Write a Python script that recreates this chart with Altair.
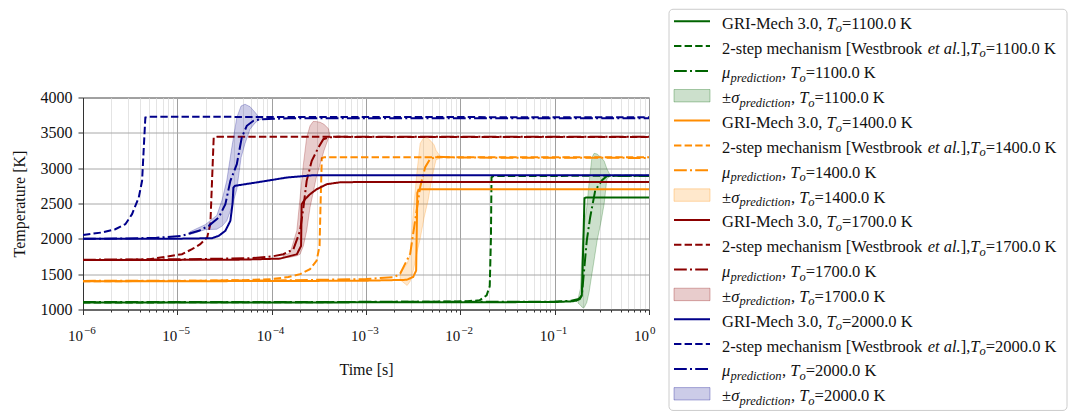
import altair as alt
import pandas as pd

FONT = "Liberation Serif"

cases = ["1100.0", "1400.0", "1700.0", "2000.0"]
case_colors = ["#006400", "#ff8c00", "#8b0000", "#00008b"]
kinds = ["gri", "two", "mu"]
kind_dashes = [[1, 0], [7.4, 3.2], [12.8, 3.2, 2, 3.2]]

# x-axis decade labels (10^exp)
major_vals = [1e-6, 1e-5, 1e-4, 1e-3, 1e-2, 1e-1, 1.0]
major_exps = ["−6", "−5", "−4", "−3", "−2", "−1", "0"]
y_ticks = [1000, 1500, 2000, 2500, 3000, 3500, 4000]

# ---- T0 = 1100 K ----
gri_1100_t = [1e-6, 1e-4, 1e-2, 0.1, 0.15, 0.17, 0.185, 0.194, 0.2, 0.207, 0.215, 1.0]
gri_1100_T = [1100, 1100, 1102, 1106, 1115, 1125, 1150, 1200, 1800, 2575, 2585, 2585]
two_1100_t = [1e-6, 1e-4, 1e-3, 5e-3, 0.012, 0.016, 0.019, 0.0205, 0.0211, 0.0214, 0.0225, 1.0]
two_1100_T = [1100, 1102, 1106, 1110, 1118, 1130, 1200, 1330, 2000, 2870, 2890, 2892]
mu_1100_t = [1e-6, 1e-3, 0.05, 0.1, 0.15, 0.18, 0.194, 0.219, 0.238, 0.269, 0.316, 0.358, 0.5, 1.0]
mu_1100_T = [1105, 1108, 1108, 1112, 1125, 1150, 1198, 1976, 2306, 2684, 2825, 2890, 2890, 2890]
band_1100_t = [0.177, 0.188, 0.196, 0.206, 0.219, 0.232, 0.248, 0.262, 0.282, 0.311, 0.335, 0.358, 0.388]
band_1100_lo = [1090, 1060, 1030, 1030, 1100, 1250, 1500, 1700, 1976, 2250, 2500, 2850, 2885]
band_1100_hi = [1150, 1300, 1900, 2200, 2450, 2800, 3150, 3210, 3200, 3150, 3100, 2990, 2900]

# ---- T0 = 1400 K ----
gri_1400_t = [1e-6, 1e-4, 1e-3, 2.7e-3, 3.16e-3, 3.4e-3, 3.5e-3, 3.6e-3, 3.8e-3, 1.0]
gri_1400_T = [1400, 1402, 1408, 1420, 1460, 1550, 2650, 2695, 2700, 2700]
two_1400_t = [1e-6, 1e-5, 5e-5, 1e-4, 1.5e-4, 2.0e-4, 2.55e-4, 3.0e-4, 3.22e-4, 3.3e-4, 3.4e-4, 3.6e-4, 1.0]
two_1400_T = [1400, 1403, 1415, 1430, 1460, 1500, 1570, 1693, 1900, 2500, 3140, 3155, 3155]
mu_1400_t = [1e-6, 1e-4, 1e-3, 2e-3, 2.3e-3, 2.94e-3, 3.32e-3, 3.75e-3, 4.24e-3, 4.79e-3, 5.64e-3, 1e-2, 1.0]
mu_1400_T = [1405, 1410, 1430, 1460, 1505, 1788, 2260, 2730, 3013, 3132, 3160, 3150, 3145]
band_1400_t = [2.30e-3, 2.73e-3, 2.94e-3, 3.18e-3, 3.46e-3, 3.75e-3, 4.13e-3, 4.56e-3, 4.90e-3, 5.27e-3, 5.53e-3, 6.11e-3]
band_1400_lo = [1420, 1340, 1400, 1560, 1800, 2000, 2300, 2550, 2800, 3000, 3120, 3140]
band_1400_hi = [1500, 1650, 1780, 2400, 2930, 3350, 3440, 3420, 3380, 3330, 3250, 3170]

# ---- T0 = 1700 K ----
gri_1700_t = [1e-6, 1e-5, 5e-5, 1.23e-4, 1.85e-4, 2.05e-4, 2.08e-4, 2.26e-4, 2.55e-4, 3.0e-4, 3.84e-4, 5.3e-4, 1e-3, 1.0]
gri_1700_T = [1700, 1702, 1706, 1720, 1782, 1900, 2490, 2561, 2632, 2702, 2773, 2800, 2805, 2805]
two_1700_t = [1e-6, 3e-6, 5.13e-6, 1.12e-5, 1.43e-5, 1.75e-5, 2.07e-5, 2.24e-5, 2.43e-5, 2.64e-5, 1.0]
two_1700_T = [1700, 1703, 1712, 1782, 1853, 1924, 2019, 2207, 3434, 3444, 3440]
mu_1700_t = [1e-6, 1e-5, 6e-5, 1.0e-4, 1.33e-4, 1.70e-4, 2.0e-4, 2.17e-4, 2.35e-4, 2.66e-4, 3.13e-4, 3.53e-4, 3.99e-4, 5e-4, 1.0]
mu_1700_T = [1705, 1710, 1725, 1750, 1782, 1853, 2114, 2443, 2821, 3104, 3292, 3410, 3434, 3445, 3445]
band_1700_t = [1.32e-4, 1.57e-4, 1.85e-4, 2.0e-4, 2.17e-4, 2.35e-4, 2.55e-4, 2.75e-4, 2.95e-4, 3.26e-4, 3.59e-4, 3.99e-4, 4.16e-4]
band_1700_lo = [1730, 1740, 1760, 1782, 1901, 2114, 2443, 2650, 2850, 3056, 3250, 3420, 3440]
band_1700_hi = [1760, 1800, 2118, 2585, 3056, 3434, 3600, 3660, 3660, 3650, 3620, 3560, 3460]

# ---- T0 = 2000 K ----
gri_2000_t = [1e-6, 1e-5, 2.33e-5, 2.75e-5, 3.23e-5, 3.65e-5, 3.85e-5, 3.93e-5, 4.07e-5, 8.87e-5, 1.45e-4, 2.77e-4, 6.8e-4, 1.0]
gri_2000_T = [2000, 2002, 2009, 2043, 2114, 2255, 2500, 2726, 2750, 2821, 2868, 2900, 2900, 2900]
two_2000_t = [1e-6, 1.59e-6, 2.2e-6, 2.81e-6, 3.31e-6, 3.9e-6, 4.23e-6, 4.58e-6, 4.95e-6, 1.0]
two_2000_T = [2055, 2090, 2136, 2207, 2349, 2585, 2821, 3717, 3727, 3720]
mu_2000_t = [1e-6, 3e-6, 6e-6, 1.12e-5, 1.69e-5, 2.15e-5, 2.75e-5, 3.23e-5, 3.65e-5, 4.27e-5, 4.82e-5, 5.45e-5, 6.4e-5, 7.5e-5, 1.5e-4, 1.0]
mu_2000_T = [2000, 2005, 2015, 2043, 2114, 2184, 2302, 2490, 2821, 3056, 3434, 3600, 3670, 3693, 3705, 3705]
band_2000_t = [1.36e-5, 1.97e-5, 2.62e-5, 2.98e-5, 3.34e-5, 3.78e-5, 4.27e-5, 4.74e-5, 5.22e-5, 5.9e-5, 6.67e-5, 7.23e-5, 7.91e-5]
band_2000_lo = [2060, 2130, 2136, 2180, 2255, 2450, 2700, 3150, 3350, 3552, 3640, 3680, 3695]
band_2000_hi = [2100, 2200, 2330, 2550, 2821, 3292, 3717, 3880, 3905, 3870, 3790, 3730, 3715]

series = {
    "1100.0": [(gri_1100_t, gri_1100_T), (two_1100_t, two_1100_T), (mu_1100_t, mu_1100_T), (band_1100_t, band_1100_lo, band_1100_hi)],
    "1400.0": [(gri_1400_t, gri_1400_T), (two_1400_t, two_1400_T), (mu_1400_t, mu_1400_T), (band_1400_t, band_1400_lo, band_1400_hi)],
    "1700.0": [(gri_1700_t, gri_1700_T), (two_1700_t, two_1700_T), (mu_1700_t, mu_1700_T), (band_1700_t, band_1700_lo, band_1700_hi)],
    "2000.0": [(gri_2000_t, gri_2000_T), (two_2000_t, two_2000_T), (mu_2000_t, mu_2000_T), (band_2000_t, band_2000_lo, band_2000_hi)],
}

W, H = 566, 212

# ---------------- scales & axes ----------------
color_scale = alt.Scale(domain=cases, range=case_colors)
dash_scale = alt.Scale(domain=kinds, range=kind_dashes)
xscale = alt.Scale(type="log", domain=[1e-6, 1.0], nice=False)
yscale = alt.Scale(domain=[1000, 4000], nice=False)

minor_vals = [k * m for m in major_vals[:-1] for k in range(2, 10)]
tick_vals = sorted(major_vals + minor_vals)
is_major = "abs(log(datum.value)/LN10 - round(log(datum.value)/LN10)) < 0.001"

xaxis = alt.Axis(
    values=tick_vals,
    labels=False,
    grid=True,
    gridColor={"condition": {"test": is_major, "value": "#a0a0a0"}, "value": "#e4e4e4"},
    tickSize={"condition": {"test": is_major, "value": 5}, "value": 2.5},
    titlePadding=46,
    title="Time [s]",
)
yaxis = alt.Axis(
    values=y_ticks,
    format="d",
    grid=True,
    gridColor="#a8a8a8",
    tickSize=5,
    labelPadding=6,
    labelFontSize=16,
    titlePadding=13,
    title="Temperature [K]",
)

layers = []
for case in cases:
    rows = []
    for kind, (ts, Ts) in zip(kinds, series[case][:3]):
        for t, T in zip(ts, Ts):
            rows.append({"case": case, "kind": kind, "sid": case + kind, "t": t, "T": T})
    ldf = pd.DataFrame(rows)
    bt, blo, bhi = series[case][3]
    bdf = pd.DataFrame({"case": case, "t": bt, "lo": blo, "hi": bhi})

    lines = alt.Chart(ldf).mark_line(strokeWidth=2, clip=True).encode(
        x=alt.X("t:Q", scale=xscale, axis=xaxis),
        y=alt.Y("T:Q", scale=yscale, axis=yaxis),
        color=alt.Color("case:N", scale=color_scale, legend=None),
        strokeDash=alt.StrokeDash("kind:N", scale=dash_scale, legend=None),
        detail="sid:N",
    )
    band = alt.Chart(bdf).mark_area(fillOpacity=0.2, strokeOpacity=0.25, strokeWidth=1, clip=True).encode(
        x=alt.X("t:Q", scale=xscale, axis=xaxis),
        y=alt.Y("lo:Q", scale=yscale, axis=yaxis),
        y2="hi:Q",
        color=alt.Color("case:N", scale=color_scale, legend=None),
        stroke=alt.Stroke("case:N", scale=color_scale, legend=None),
    )
    layers += [lines, band]

# decade tick labels: "10" with a superscript exponent
tick_df = pd.DataFrame({"t": major_vals, "base": ["10"] * len(major_vals), "exp": major_exps})
base_lbl = alt.Chart(tick_df).mark_text(
    align="center", baseline="alphabetic", dx=-7.5, fontSize=15, font=FONT, color="#111111"
).encode(x=alt.X("t:Q", scale=xscale, axis=xaxis), y=alt.value(H + 31), text="base:N")
exp_lbl = alt.Chart(tick_df).mark_text(
    align="left", baseline="alphabetic", dx=1, fontSize=11, font=FONT, color="#111111"
).encode(x=alt.X("t:Q", scale=xscale, axis=xaxis), y=alt.value(H + 24), text="exp:N")
layers += [base_lbl, exp_lbl]

main = alt.layer(*layers)

# ---------------- legend (drawn as marks) ----------------
REG = {" ": 250, "-": 333, ",": 250, ".": 250, "=": 564, "[": 333, "]": 333, "G": 722, "R": 667,
       "I": 333, "M": 889, "K": 722, "W": 944, "a": 444, "b": 500, "c": 444, "e": 444, "h": 500,
       "i": 278, "k": 500, "m": 778, "n": 500, "o": 500, "p": 500, "r": 333, "s": 389, "t": 278, "±": 564}
ITA = {"T": 556, "o": 500, "e": 444, "t": 278, " ": 250, "a": 500, "l": 278, ".": 250, "p": 500,
       "r": 389, "d": 500, "i": 278, "c": 444, "n": 500, "μ": 520, "σ": 500}
SIZE = {"r": 16.5, "i": 16.5, "s": 12.5}


def seg_width(text, style):
    table = REG if style == "r" else ITA
    return sum(table.get(ch, 500) for ch in text) * SIZE[style] / 1000.0


def entry_segments(kind, case):
    tail = [("T", "i"), ("o", "s"), ("=" + case + " K", "r")]
    if kind == "gri":
        return [("GRI-Mech 3.0, ", "r")] + tail
    if kind == "two":
        return [("2-step mechanism [Westbrook ", "r"), ("et al.", "i"), ("],", "r")] + tail
    if kind == "mu":
        return [("μ", "i"), ("prediction", "s"), (", ", "r")] + tail
    return [("±", "r"), ("σ", "i"), ("prediction", "s"), (", ", "r")] + tail


leg_kinds = ["gri", "two", "mu", "band"]
line_rows, patch_rows, text_rows = [], [], []
for ci, case in enumerate(cases):
    for ki, kind in enumerate(leg_kinds):
        row = ci * 4 + ki
        if kind == "band":
            patch_rows.append({"case": case, "r0": row - 0.25, "r1": row + 0.25, "x0": 5, "x1": 41})
        else:
            line_rows.append({"case": case, "kind": kind, "row": row, "x0": 5, "x1": 41})
        x = 53.0
        for text, style in entry_segments(kind, case):
            text_rows.append({"row": row, "x": x, "text": text, "style": style})
            x += seg_width(text, style)

lx_scale = alt.Scale(domain=[0, 400], range=[586, 986], nice=False, zero=False)
ly_scale = alt.Scale(domain=[0, 15], range=[-76.3, 296.3], nice=False, zero=False)

box = alt.Chart(pd.DataFrame({"x0": [0], "x1": [398], "y0": [-0.48], "y1": [15.67]})).mark_rect(
    fill="white", stroke="#cccccc", strokeWidth=1, cornerRadius=4
).encode(
    x=alt.X("x0:Q", scale=lx_scale, axis=None), x2="x1:Q",
    y=alt.Y("y0:Q", scale=ly_scale, axis=None), y2="y1:Q",
)
leg_lines = alt.Chart(pd.DataFrame(line_rows)).mark_rule(strokeWidth=2).encode(
    x=alt.X("x0:Q", scale=lx_scale, axis=None), x2="x1:Q",
    y=alt.Y("row:Q", scale=ly_scale, axis=None),
    color=alt.Color("case:N", scale=color_scale, legend=None),
    strokeDash=alt.StrokeDash("kind:N", scale=dash_scale, legend=None),
)
leg_patch = alt.Chart(pd.DataFrame(patch_rows)).mark_rect(fillOpacity=0.2, strokeOpacity=0.3, strokeWidth=1).encode(
    x=alt.X("x0:Q", scale=lx_scale, axis=None), x2="x1:Q",
    y=alt.Y("r0:Q", scale=ly_scale, axis=None), y2="r1:Q",
    color=alt.Color("case:N", scale=color_scale, legend=None),
    stroke=alt.Stroke("case:N", scale=color_scale, legend=None),
)
tdf = pd.DataFrame(text_rows)
text_layers = []
for style, fstyle, dy in [("r", "normal", 7.5), ("i", "italic", 7.5), ("s", "italic", 11)]:
    text_layers.append(
        alt.Chart(tdf).transform_filter(alt.datum.style == style).mark_text(
            align="left", baseline="alphabetic", dy=dy, font=FONT, fontSize=SIZE[style],
            fontStyle=fstyle, color="#111111"
        ).encode(
            x=alt.X("x:Q", scale=lx_scale, axis=None),
            y=alt.Y("row:Q", scale=ly_scale, axis=None),
            text="text:N",
        )
    )

legend = alt.layer(box, leg_lines, leg_patch, *text_layers)

chart = (
    alt.layer(main, legend)
    .resolve_scale(x="independent", y="independent")
    .properties(width=W, height=H, padding={"left": 11, "top": 8.5, "right": 5, "bottom": 0}, background="white")
    .configure(font=FONT)
    .configure_view(stroke="#333333", strokeWidth=1)
    .configure_axis(
        labelFont=FONT, titleFont=FONT, labelFontSize=15, titleFontSize=16,
        titleFontWeight="normal", labelColor="#111111", titleColor="#111111",
        domainColor="#333333", tickColor="#333333", gridWidth=1,
    )
)

chart.save("out.html", embed_options={"renderer": "svg", "actions": False})
